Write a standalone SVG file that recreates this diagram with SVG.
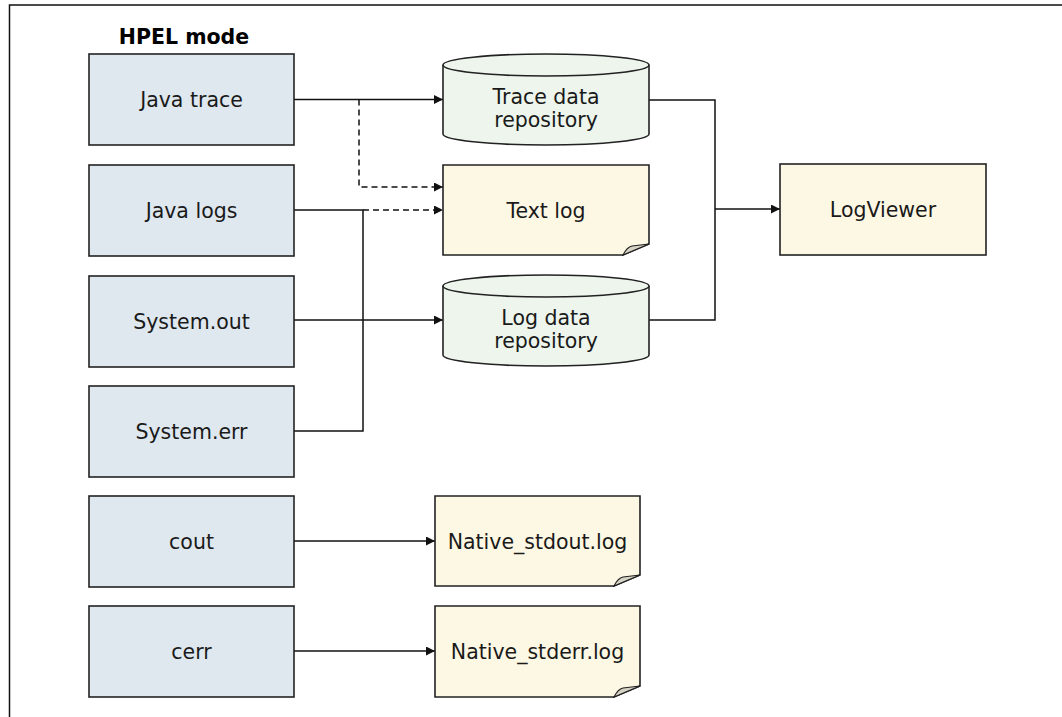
<svg xmlns="http://www.w3.org/2000/svg" width="1062" height="717" viewBox="0 0 1062 717">
<defs>
<style>
text{font-family:"DejaVu Sans",Verdana,sans-serif;font-size:20.5px;fill:#1a1a1a;text-anchor:middle}
.title{font-weight:bold;fill:#000}
.src{fill:#dfe8ef;stroke:#222;stroke-width:1.6}
.cyl{fill:#edf5ed;stroke:#222;stroke-width:1.6}
.doc{fill:#fdf8e3;stroke:#222;stroke-width:1.6}
.fold{fill:#d6d2c4;stroke:#222;stroke-width:1.2}
.viewer{fill:#fdf8e3;stroke:#222;stroke-width:1.6}
.ln{fill:none;stroke:#111;stroke-width:1.5}
.dash{stroke-dasharray:6,4}
.arr{marker-end:url(#ah)}
</style>
<marker id="ah" viewBox="0 0 10 10" refX="10" refY="5" markerWidth="11" markerHeight="9" markerUnits="userSpaceOnUse" orient="auto">
<path d="M0,0 L10,5 L0,10 Z" fill="#111"/>
</marker>
</defs>
<rect width="1062" height="717" fill="#fff"/>
<path d="M9.5,717 V5 H1062" fill="none" stroke="#111" stroke-width="1.5"/>
<text class="title" x="184" y="44">HPEL mode</text>

<g id="connectors">
<path class="ln arr" d="M294,99.5 H443"/>
<path class="ln dash arr" d="M359,99.5 V187 H443"/>
<path class="ln" d="M294,210 H363 V431 H294"/>
<path class="ln dash arr" d="M363,210 H443"/>
<path class="ln arr" d="M294,320 H443"/>
<path class="ln" d="M649,100 H715 V320 H649"/>
<path class="ln arr" d="M715,209 H780"/>
<path class="ln arr" d="M294,541 H435"/>
<path class="ln arr" d="M294,651 H435"/>
</g>

<g id="java-trace">
<rect class="src" x="89" y="54" width="205" height="91"/>
<text x="191.5" y="107">Java trace</text>
</g>
<g id="java-logs">
<rect class="src" x="89" y="165" width="205" height="91"/>
<text x="191.5" y="218">Java logs</text>
</g>
<g id="system-out">
<rect class="src" x="89" y="276" width="205" height="91"/>
<text x="191.5" y="329">System.out</text>
</g>
<g id="system-err">
<rect class="src" x="89" y="386" width="205" height="91"/>
<text x="191.5" y="439">System.err</text>
</g>
<g id="cout">
<rect class="src" x="89" y="496" width="205" height="91"/>
<text x="191.5" y="549">cout</text>
</g>
<g id="cerr">
<rect class="src" x="89" y="606" width="205" height="91"/>
<text x="191.5" y="659">cerr</text>
</g>

<g id="trace-repo">
<path class="cyl" d="M443,65 A103,11 0 0 1 649,65 V134 A103,11 0 0 1 443,134 Z"/>
<path class="cyl" d="M443,65 A103,11 0 0 0 649,65" fill="none"/>
<text x="546" y="104">Trace data</text>
<text x="546" y="127">repository</text>
</g>
<g id="text-log">
<path class="doc" d="M443,165 H649 V244 L623,255 H443 Z"/>
<path class="fold" d="M649,244 L623,255 Q627,247 632,246 Z"/>
<text x="546" y="218">Text log</text>
</g>
<g id="log-repo">
<path class="cyl" d="M443,286 A103,11 0 0 1 649,286 V355 A103,11 0 0 1 443,355 Z"/>
<path class="cyl" d="M443,286 A103,11 0 0 0 649,286" fill="none"/>
<text x="546" y="325">Log data</text>
<text x="546" y="348">repository</text>
</g>
<g id="logviewer">
<rect class="viewer" x="780" y="164" width="206" height="91"/>
<text x="883" y="217">LogViewer</text>
</g>
<g id="native-stdout">
<path class="doc" d="M435,496 H640 V575 L614,586 H435 Z"/>
<path class="fold" d="M640,575 L614,586 Q618,578 623,577 Z"/>
<text x="537.5" y="549">Native_stdout.log</text>
</g>
<g id="native-stderr">
<path class="doc" d="M435,606 H640 V686 L614,697 H435 Z"/>
<path class="fold" d="M640,686 L614,697 Q618,689 623,688 Z"/>
<text x="537.5" y="659">Native_stderr.log</text>
</g>
</svg>
